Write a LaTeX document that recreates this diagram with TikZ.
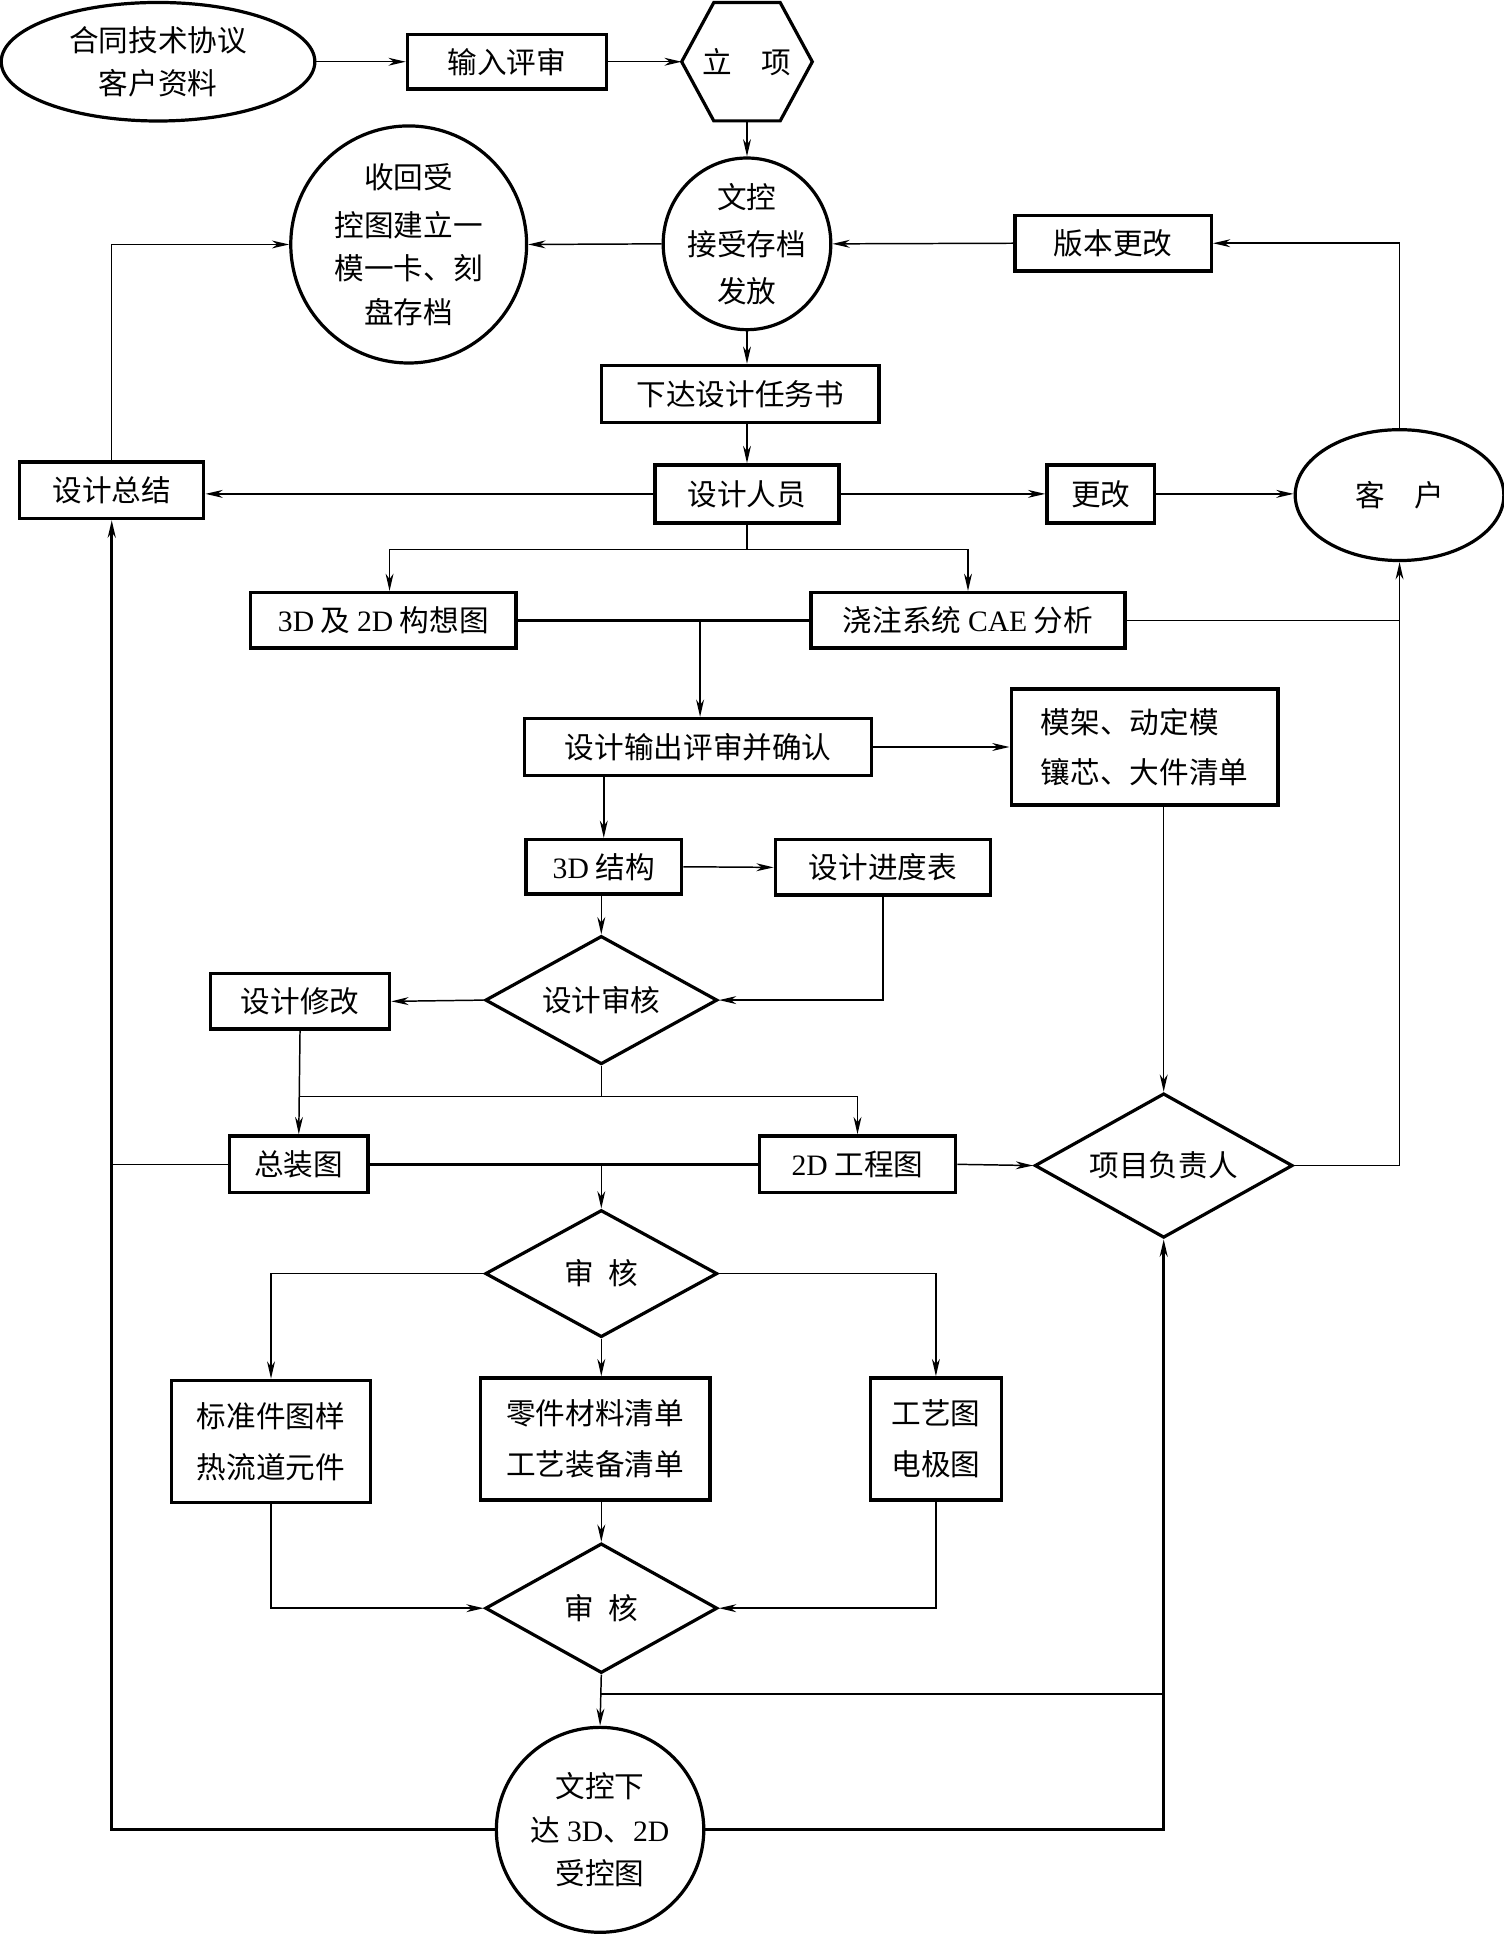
\documentclass[tikz,border=0pt]{standalone}
\usepackage{fontspec}
\setmainfont{Noto Sans CJK SC}
\newfontfamily\lat{Liberation Serif}
\usetikzlibrary{shapes.geometric,arrows.meta}
\tikzset{
  box/.style={draw, line width=1.4pt, rectangle, inner sep=0pt, align=center},
  oval/.style={draw, line width=1.3pt, ellipse, inner sep=0pt, align=center},
  dia/.style={draw, line width=1.3pt, diamond, aspect=1.8, inner sep=0pt, align=center},
  link/.style={line width=0.6pt},
  heavy/.style={line width=1.1pt},
  tip/.style={-{Stealth[length=7pt,width=3.2pt,inset=2.2pt]}},
  conn/.style={link, tip},
}
\begin{document}
\begin{tikzpicture}[x=0.5pt,y=-0.5pt, font=\fontsize{12pt}{17.5pt}\selectfont]
\useasboundingbox (0,0) rectangle (1218,1568);
\fill[white] (0,0) rectangle (1218,1568);

% row 1
\node[oval, minimum width=127pt, minimum height=48pt] (hetong) at (128,50) {合同技术协议\\客户资料};
\node[box, minimum width=80.5pt, minimum height=22pt] (shuru) at (410.5,50) {输入评审};
\node[inner sep=0pt, minimum width=52.5pt, minimum height=47.5pt] (hex) at (605,50) {立\quad 项};
\draw[line width=1.3pt] (hex.west) -- ([xshift=13pt]hex.north west) -- ([xshift=-13pt]hex.north east) -- (hex.east) -- ([xshift=-13pt]hex.south east) -- ([xshift=13pt]hex.south west) -- cycle;

% row 2
\node[oval, minimum width=67pt, minimum height=68pt] (wenkong) at (605,197.5) {文控\\[1.5pt]接受存档\\[1.5pt]发放};
\node[oval, minimum width=95.5pt, minimum height=96pt] (shouhui) at (331,198) {收回受\\[2pt]控图建立一\\模一卡、刻\\盘存档};
\node[box, minimum width=79.5pt, minimum height=22.5pt] (banben) at (901.5,197) {版本更改};

% row 3
\node[box, minimum width=112.5pt, minimum height=23pt] (xiada) at (599.5,319) {下达设计任务书};
\node[box, minimum width=74.5pt, minimum height=23pt] (zongjie) at (90.5,397) {设计总结};
\node[box, minimum width=74.5pt, minimum height=23.5pt] (renyuan) at (605,400) {设计人员};
\node[box, minimum width=43.5pt, minimum height=23.5pt] (genggai) at (891.5,400) {更改};
\node[oval, minimum width=84.5pt, minimum height=53pt] (kehu) at (1133.5,401) {客\quad 户};

% row 4
\node[box, minimum width=107.5pt, minimum height=22.5pt] (gouxiang) at (310.5,502.5) {{\lat 3D} 及 {\lat 2D} 构想图};
\node[box, minimum width=127pt, minimum height=22.5pt] (cae) at (784,502.5) {浇注系统 {\lat CAE} 分析};
\node[box, minimum width=140.5pt, minimum height=23pt] (shuchu) at (565.5,605) {设计输出评审并确认};
\node[box, minimum width=108pt, minimum height=47pt, align=left] (mojia) at (927,605) {模架、动定模\\[3pt]镶芯、大件清单};
\node[box, minimum width=63pt, minimum height=22pt] (jiegou) at (489,702) {{\lat 3D} 结构};
\node[box, minimum width=87pt, minimum height=22.5pt] (jindu) at (715,702.5) {设计进度表};
\node[dia, minimum width=94pt, minimum height=52pt] (shenhe0) at (487,810) {设计审核};
\node[box, minimum width=72.5pt, minimum height=22.5pt] (xiugai) at (243,811) {设计修改};
\node[box, minimum width=56pt, minimum height=23pt] (zongzhuang) at (242,943) {总装图};
\node[box, minimum width=79.5pt, minimum height=23pt] (gongcheng) at (694.5,943) {{\lat 2D} 工程图};
\node[dia, minimum width=104.5pt, minimum height=58.5pt] (fuze) at (942.5,944) {项目负责人};

% lower part
\node[dia, minimum width=94pt, minimum height=51.5pt] (shenhe1) at (487,1031.5) {审\hspace{0.5em}核};
\node[box, minimum width=80.5pt, minimum height=49.5pt] (biaozhun) at (219.5,1167.5) {标准件图样\\[3pt]热流道元件};
\node[box, minimum width=93pt, minimum height=49.5pt] (lingjian) at (482,1165.5) {零件材料清单\\[3pt]工艺装备清单};
\node[box, minimum width=53pt, minimum height=49.5pt] (gongyi) at (758,1165.5) {工艺图\\[3pt]电极图};
\node[dia, minimum width=94pt, minimum height=52.5pt] (shenhe2) at (487,1302.5) {审\hspace{0.5em}核};
\node[oval, minimum width=84pt, minimum height=83pt] (xiada2) at (486,1482) {文控下\\达 {\lat 3D}、{\lat 2D}\\受控图};

% junction coordinates
\coordinate (s1) at (605,445);
\coordinate (j1) at (567,502.5);
\coordinate (j2) at (487,888);
\coordinate (j3) at (487,943);
\coordinate (j4) at (487,1372);

% connectors
\draw[conn] (hetong.east) -- (shuru.west);
\draw[conn] (shuru.east) -- (hex.west);
\draw[conn] (hex.south) -- (wenkong.north);
\draw[conn] (wenkong.west) -- (shouhui.east);
\draw[conn] (zongjie.north) |- (shouhui.west);
\draw[conn] (banben.west) -- (wenkong.east);
\draw[conn] (kehu.north) |- (banben.east);
\draw[conn] (wenkong.south) -- (wenkong.south |- xiada.north);
\draw[conn] (renyuan.north |- xiada.south) -- (renyuan.north);
\draw[conn] (renyuan.west) -- (zongjie.east |- renyuan.west);
\draw[conn] (renyuan.east) -- (genggai.west);
\draw[conn] (genggai.east) -- (genggai.east -| kehu.west);
\draw[link] (renyuan.south) -- (s1);
\draw[conn] (s1) -| ([xshift=2.5pt]gouxiang.north);
\draw[conn] (s1) -| (cae.north);
\draw[heavy] (gouxiang.east) -- (cae.west);
\draw[conn] (j1) -- (j1 |- shuchu.north);
\draw[link] (cae.east) -- (cae.east -| kehu.south);
\draw[conn] (fuze.east) -| (kehu.south);
\draw[conn] (shuchu.east) -- (mojia.west);
\draw[conn] (jiegou.north |- shuchu.south) -- (jiegou.north);
\draw[conn] (jiegou.east) -- (jindu.west);
\draw[conn] (jindu.south) |- (shenhe0.east);
\draw[conn] (jiegou.south -| shenhe0.north) -- (shenhe0.north);
\draw[conn] (shenhe0.west) -- (xiugai.east);
\draw[conn] (xiugai.south) -- (zongzhuang.north);
\draw[link] (shenhe0.south) -- (j2);
\draw[link] (xiugai.south |- j2) -- (j2);
\draw[conn] (j2) -| (gongcheng.north);
\draw[heavy] (zongzhuang.east) -- (gongcheng.west);
\draw[conn] (j3) -- (shenhe1.north);
\draw[conn] (gongcheng.east) -- (fuze.west);
\draw[conn] (fuze.north |- mojia.south) -- (fuze.north);
\draw[link] (zongzhuang.west) -- (zongzhuang.west -| zongjie.south);
\draw[heavy, tip] (xiada2.west) -| (zongjie.south);
\draw[heavy, tip] (xiada2.east) -| (fuze.south);
\draw[heavy] (j4) -- (j4 -| fuze.south);
\draw[conn] (shenhe1.west) -| (biaozhun.north);
\draw[conn] (shenhe1.south) -- (shenhe1.south |- lingjian.north);
\draw[conn] (shenhe1.east) -| (gongyi.north);
\draw[conn] (biaozhun.south) |- (shenhe2.west);
\draw[conn] (lingjian.south -| shenhe2.north) -- (shenhe2.north);
\draw[conn] (gongyi.south) |- (shenhe2.east);
\draw[conn] (shenhe2.south) -- (xiada2.north);
\end{tikzpicture}
\end{document}
